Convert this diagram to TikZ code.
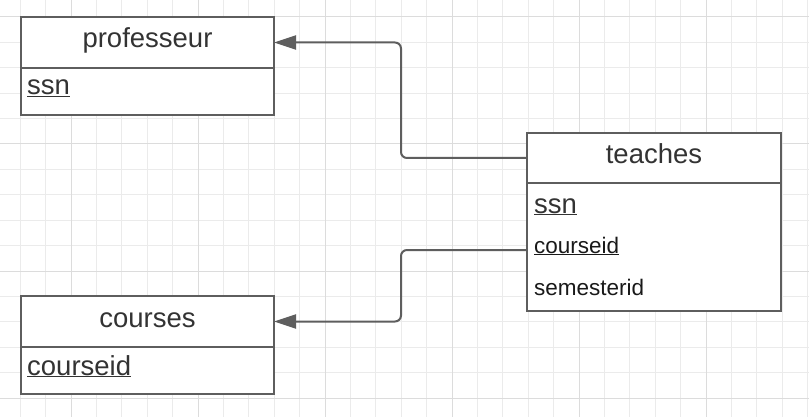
\documentclass[tikz,border=0pt]{standalone}
\usepackage{fontspec}
\setmainfont{Liberation Sans}
\usetikzlibrary{arrows.meta}
\definecolor{boxline}{HTML}{5E5E5E}
\definecolor{textdark}{HTML}{333333}
\definecolor{gridminor}{HTML}{EBEBEB}
\definecolor{gridmajor}{HTML}{DCDCDC}
\tikzset{
  entity/.style={draw=boxline, line width=2pt, fill=white, inner sep=0pt, outer sep=0pt,
    text=textdark, font=\fontsize{27.5}{30}\selectfont, text height=19pt, text depth=8pt},
  attr/.style={inner sep=0pt, anchor=base west, font=\fontsize{27.5}{30}\selectfont, text=textdark},
  smallattr/.style={inner sep=0pt, anchor=base west, font=\fontsize{22.5}{25}\selectfont, text=black!90},
  conn/.style={draw=boxline, line width=2pt, rounded corners=6pt,
    -{Triangle[length=22pt,width=14pt]}}
}
\begin{document}
\begin{tikzpicture}[x=1pt, y=-1pt]
    \useasboundingbox (0,0) rectangle (809,417);
    \fill[white] (0,0) rectangle (809,417);

    % Background grid
    \foreach \k in {-2,...,29}
        \draw[gridminor, line width=1pt] ({71+25.4*\k},0) -- ({71+25.4*\k},417);
    \foreach \k in {0,...,15}
        \draw[gridminor, line width=1pt] (0,{17+25.4*\k}) -- (809,{17+25.4*\k});
    \foreach \k in {0,...,5}
        \draw[gridmajor, line width=1pt] ({71+127*\k},0) -- ({71+127*\k},417);
    \foreach \k in {0,...,3}
        \draw[gridmajor, line width=1pt] (0,{17+127*\k}) -- (809,{17+127*\k});

    % Entity professeur
    \node[entity, minimum width=253pt, minimum height=51pt] (prof) at (147.5,42.5) {professeur};
    \node[entity, minimum width=253pt, minimum height=47pt] (profbody) at (147.5,91.5) {};
    \node[attr] (profssn) at (27,95) {\underline{ssn}};

    % Entity teaches
    \node[entity, minimum width=254pt, minimum height=50pt] (teach) at (654,158) {teaches};
    \node[entity, minimum width=254pt, minimum height=128pt] (teachbody) at (654,247) {};
    \node[attr] (teachssn) at (534,213) {\underline{ssn}};
    \node[smallattr] (teachcid) at (534,253) {\underline{courseid}};
    \node[smallattr] (teachsem) at (534,295) {semesterid};

    % Entity courses
    \node[entity, minimum width=253pt, minimum height=51pt] (course) at (147.5,321.5) {courses};
    \node[entity, minimum width=253pt, minimum height=47pt] (coursebody) at (147.5,370.5) {};
    \node[attr] (coursecid) at (27,375) {\underline{courseid}};

    % Foreign keys
    \coordinate (cidport) at (527,250);
    \draw[conn] (teach.west) -- ++(-126,0) |- (prof.east);
    \draw[conn] (cidport) -- ++(-126,0) |- (course.east);
\end{tikzpicture}
\end{document}
